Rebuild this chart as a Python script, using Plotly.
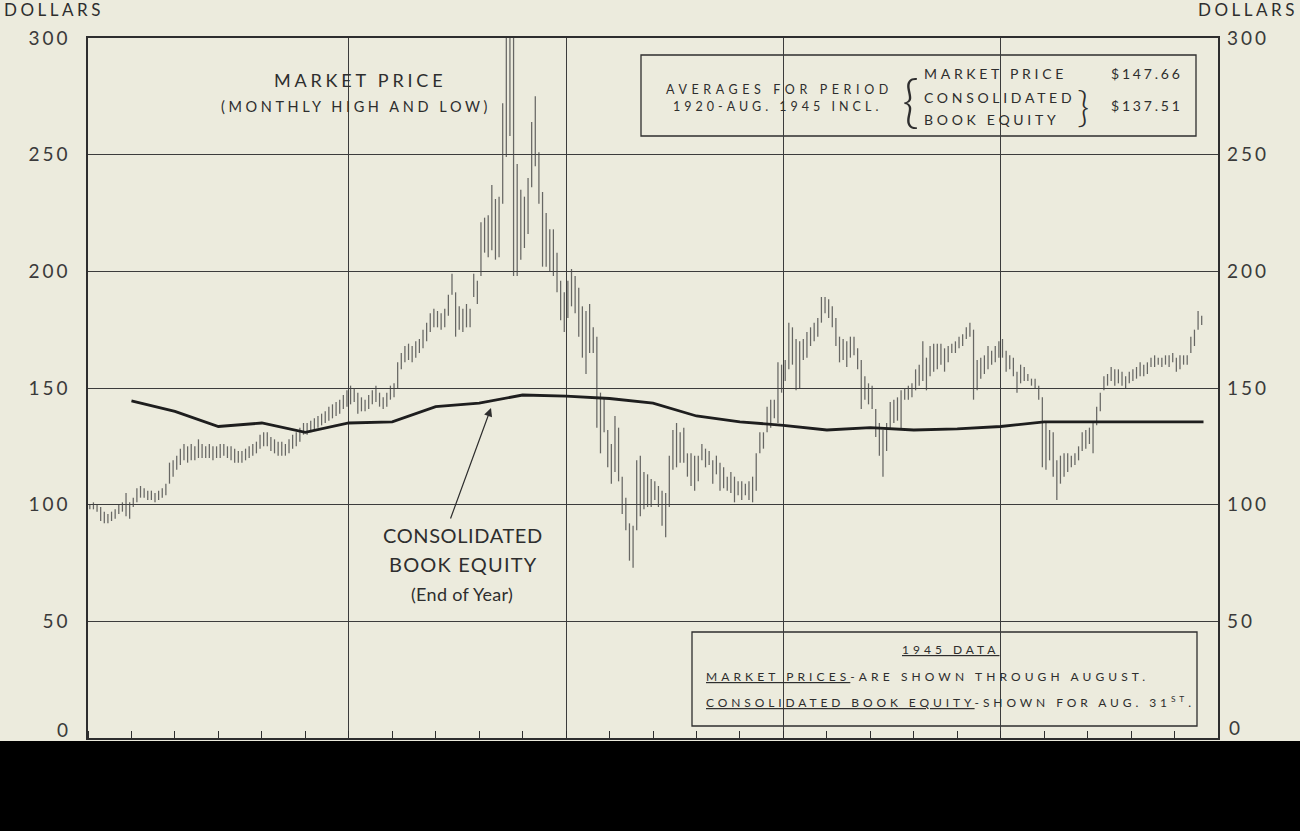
import plotly.graph_objects as go

# ---------------- DATA ----------------
start_year = 1920
# Monthly market price highs / lows, Jan 1920 .. Aug 1945 (dollars)
high_1920s = [
    100, 101, 100, 99, 97, 96, 97, 98, 100, 101, 105, 101,      # 1920
    103, 107, 108, 107, 106, 106, 105, 106, 107, 109, 118, 119,  # 1921
    121, 124, 126, 125, 126, 125, 128, 126, 125, 126, 125, 125,  # 1922
    126, 126, 125, 125, 124, 123, 123, 124, 125, 126, 127, 130,  # 1923
    131, 131, 129, 128, 127, 127, 126, 128, 130, 131, 133, 135,  # 1924
    135, 136, 137, 138, 139, 140, 142, 143, 144, 145, 147, 149,  # 1925
    151, 150, 148, 146, 145, 147, 149, 151, 148, 146, 148, 151,  # 1926
    152, 161, 165, 168, 169, 168, 170, 171, 175, 178, 182, 184,  # 1927
    183, 182, 184, 190, 199, 191, 185, 184, 186, 184, 199, 196,  # 1928
    221, 223, 224, 237, 231, 232, 272, 303, 310, 304, 246, 235,  # 1929
]
low_1920s = [
    98, 98, 97, 93, 92, 92, 93, 94, 96, 97, 95, 94,
    99, 101, 103, 103, 102, 102, 101, 102, 103, 104, 109, 112,
    115, 117, 119, 118, 119, 119, 120, 120, 120, 120, 119, 120,
    120, 121, 120, 119, 118, 118, 118, 119, 120, 121, 122, 124,
    125, 125, 123, 122, 121, 121, 121, 122, 124, 125, 127, 130,
    130, 131, 132, 133, 134, 135, 136, 137, 138, 139, 141, 142,
    143, 144, 139, 140, 140, 141, 143, 144, 142, 141, 142, 145,
    146, 150, 158, 161, 162, 161, 163, 165, 167, 170, 174, 176,
    176, 175, 176, 181, 190, 172, 175, 174, 176, 176, 189, 186,
    198, 208, 206, 209, 205, 206, 229, 249, 258, 198, 198, 205,
]
high_1930s = [
    232, 240, 264, 275, 251, 234, 225, 218, 218, 208, 196, 191,  # 1930
    196, 201, 198, 193, 185, 183, 186, 176, 172, 148, 146, 132,  # 1931
    126, 138, 133, 112, 103, 92, 91, 119, 121, 114, 113, 111,    # 1932
    110, 108, 106, 105, 121, 132, 135, 131, 133, 122, 122, 121,  # 1933
    121, 126, 124, 123, 119, 121, 118, 116, 112, 114, 112, 110,  # 1934
    110, 109, 110, 112, 122, 131, 131, 142, 145, 145, 161, 160,  # 1935
    162, 178, 176, 171, 170, 171, 174, 176, 178, 180, 189, 189,  # 1936
    188, 185, 180, 172, 171, 170, 172, 172, 167, 162, 155, 152,  # 1937
    151, 141, 135, 132, 135, 144, 145, 146, 149, 150, 151, 152,  # 1938
    158, 160, 170, 163, 168, 169, 169, 169, 167, 168, 169, 170,  # 1939
]
low_1930s = [
    210, 216, 236, 245, 229, 202, 202, 200, 198, 191, 179, 174,
    180, 185, 182, 172, 163, 156, 165, 165, 133, 122, 131, 116,
    109, 114, 110, 96, 89, 76, 73, 89, 95, 98, 99, 99,
    102, 99, 91, 86, 99, 115, 116, 118, 118, 112, 108, 106,
    110, 119, 116, 117, 109, 113, 106, 107, 106, 105, 101, 104,
    102, 104, 102, 101, 106, 122, 124, 131, 133, 137, 135, 148,
    153, 158, 160, 149, 150, 162, 163, 168, 170, 172, 178, 182,
    180, 176, 168, 161, 162, 159, 163, 164, 158, 141, 145, 143,
    141, 129, 121, 112, 123, 132, 135, 136, 132, 145, 145, 146,
    149, 151, 153, 149, 155, 157, 158, 160, 157, 161, 165, 165,
]
high_1940s = [
    172, 173, 176, 178, 175, 162, 163, 164, 168, 166, 168, 170,  # 1940
    171, 166, 164, 163, 157, 160, 159, 156, 154, 154, 151, 146,  # 1941
    135, 132, 131, 119, 121, 122, 122, 121, 122, 125, 131, 132,  # 1942
    133, 135, 142, 148, 155, 156, 159, 158, 158, 157, 155, 157,  # 1943
    158, 159, 161, 160, 161, 163, 164, 163, 163, 164, 164, 165,  # 1944
    163, 164, 164, 164, 172, 175, 183, 181,                      # 1945 (Jan-Aug)
]
low_1940s = [
    167, 168, 171, 172, 145, 149, 154, 156, 158, 160, 161, 163,
    163, 157, 158, 155, 148, 152, 153, 153, 151, 150, 145, 116,
    115, 119, 112, 102, 109, 112, 114, 116, 117, 119, 123, 124,
    126, 122, 134, 140, 149, 151, 153, 151, 152, 151, 150, 152,
    153, 154, 155, 155, 156, 159, 159, 160, 159, 160, 159, 161,
    157, 158, 160, 160, 165, 168, 175, 177,
]

# Consolidated book equity, end of year (1920..1944) plus Aug 31, 1945
book_years = list(range(1920, 1945))
book_values = [144.5, 140, 133.5, 135, 131, 135, 135.5, 142, 143.5, 147,
               146.5, 145.5, 143.5, 138, 135.5, 134, 132, 133, 132, 132.5,
               133.5, 135.5, 135.5, 135.5, 135.5]
book_last_month = 8          # August 1945
book_last_value = 135.5

y_ticks = [0, 50, 100, 150, 200, 250, 300]
grid_years = [1926, 1931, 1936, 1941]

# ---------------- BUILD ----------------
highs = high_1920s + high_1930s + high_1940s
lows = low_1920s + low_1930s + low_1940s

bx, by = [], []
for i, (h, l) in enumerate(zip(highs, lows)):
    t = start_year + (i + 0.5) / 12.0
    bx += [t, t, None]
    by += [l, h, None]

book_x = [y + 1 for y in book_years] + [1945 + book_last_month / 12.0]
book_y = book_values + [book_last_value]

W, H = 1300, 831
L, R, T, B = 88, 1218, 38, 738


def px(x):
    return (x - L) / (R - L)


def py(y):
    return (B - y) / (B - T)


def ls(s, sp):
    return '<span style="letter-spacing:%.1fpx">%s</span>' % (sp, s)


BG = "#ecebdd"
INK = "#2e2e2e"
FONT = "Lato"

fig = go.Figure()
fig.add_trace(go.Scatter(x=bx, y=by, mode="lines",
                         line=dict(color="rgba(70,70,70,0.8)", width=1.25),
                         hoverinfo="skip", showlegend=False))
fig.add_trace(go.Scatter(x=book_x, y=book_y, mode="lines",
                         line=dict(color="#1e1e1e", width=2.8),
                         showlegend=False))
# invisible trace for right axis
fig.add_trace(go.Scatter(x=[1920], y=[0], yaxis="y2", mode="markers",
                         marker=dict(opacity=0), showlegend=False, hoverinfo="skip"))

# the zero label is raised above the base line, so it is drawn separately
label_ticks = [v for v in y_ticks if v != 0]
tick_txt = [ls(str(v), 3) for v in label_ticks]

fig.update_layout(
    width=W, height=H,
    margin=dict(l=L, r=W - R, t=T, b=H - B),
    paper_bgcolor=BG, plot_bgcolor=BG,
    font=dict(family=FONT, color=INK),
    xaxis=dict(range=[1920, 1946], tickmode="array", tickvals=grid_years,
               showticklabels=False, ticks="", showgrid=True,
               gridcolor="#3c3c3c", gridwidth=1.2, zeroline=False,
               showline=True, mirror=True, linecolor=INK, linewidth=2,
               minor=dict(tickmode="linear", tick0=1920, dtick=1,
                          ticks="inside", ticklen=7, tickwidth=1.2,
                          tickcolor=INK, showgrid=False)),
    yaxis=dict(range=[0, 300], tickmode="array", tickvals=label_ticks,
               ticktext=tick_txt,
               tickfont=dict(size=19, color="#3a3a3a"), ticks="",
               ticklabelstandoff=12, showgrid=True, gridcolor="#3c3c3c",
               gridwidth=1.2, zeroline=False, showline=True, mirror=True,
               linecolor=INK, linewidth=1.5),
    yaxis2=dict(range=[0, 300], overlaying="y", side="right",
                tickmode="array", tickvals=label_ticks,
                ticktext=tick_txt,
                tickfont=dict(size=19, color="#3a3a3a"), ticks="",
                ticklabelstandoff=8, showgrid=False, zeroline=False,
                showline=False),
)

ann = []


def text(s, x, y, size, xanchor="center", color=INK, family=FONT, weight=None):
    f = dict(size=size, color=color, family=family)
    if weight:
        f["weight"] = weight
    ann.append(dict(text=s, x=px(x), y=py(y), xref="paper", yref="paper",
                    xanchor=xanchor, yanchor="middle", showarrow=False,
                    font=f))


text(ls("DOLLARS", 3.5), 2, 10, 17, "left")
text(ls("DOLLARS", 3.5), 1300, 10, 17, "right")
text(ls(str(y_ticks[0]), 3), 73, 729, 19, "right", color="#3a3a3a")
text(ls(str(y_ticks[0]), 3), 1227, 727, 19, "left", color="#3a3a3a")
text(ls("MARKET PRICE", 3.8), 360, 80, 18)
text(ls("(MONTHLY HIGH AND LOW)", 3.6), 356, 106, 14.5)
text(ls("CONSOLIDATED", 0.6), 463, 535, 20)
text(ls("BOOK EQUITY", 1.2), 463, 564, 20)
text(ls("(End of Year)", 0.3), 462, 594, 18)

# top box
text(ls("AVERAGES FOR PERIOD", 4.6), 779, 89, 12.5)
text(ls("1920-AUG. 1945 INCL.", 4.0), 777, 107, 12.5)
text("{", 910, 98, 58, weight=300)
text(ls("MARKET PRICE", 3.7), 922, 74, 14, "left")
text(ls("CONSOLIDATED", 3.7), 922, 97, 14, "left")
text(ls("BOOK EQUITY", 3.7), 922, 119, 14, "left")
text("}", 1083, 106, 42, weight=300)
text(ls("$147.66", 2.8), 1109, 74, 14, "left")
text(ls("$137.51", 2.8), 1109, 105, 14, "left")

# bottom box
text("<u>" + ls("1945 DATA", 4) + "</u>", 950, 649, 12)
text(ls("<u>MARKET PRICES</u>-ARE SHOWN THROUGH AUGUST.", 4.1), 704, 676, 12, "left")
text(ls("<u>CONSOLIDATED BOOK EQUITY</u>-SHOWN FOR AUG. 31<sup>ST</sup>.", 3.9),
     704, 702, 12, "left")

# arrow
ann.append(dict(x=px(491), y=py(408), xref="paper", yref="paper", text="",
                showarrow=True, ax=450 - 491, ay=520 - 408, arrowhead=2,
                arrowsize=1.4, arrowwidth=1.2, arrowcolor=INK))

fig.update_layout(annotations=ann)

shapes = [
    dict(type="rect", xref="paper", yref="paper", x0=px(641), x1=px(1196),
         y0=py(136), y1=py(55), line=dict(color=INK, width=1.3), fillcolor=BG,
         layer="below"),
    dict(type="rect", xref="paper", yref="paper", x0=px(692), x1=px(1197),
         y0=py(726), y1=py(632), line=dict(color=INK, width=1.3), fillcolor=BG,
         layer="below"),
    dict(type="rect", xref="paper", yref="paper", x0=px(0), x1=px(1300),
         y0=py(831), y1=py(741), line=dict(width=0), fillcolor="#000000",
         layer="above"),
]
fig.update_layout(shapes=shapes)

fig.write_html("out.html")
